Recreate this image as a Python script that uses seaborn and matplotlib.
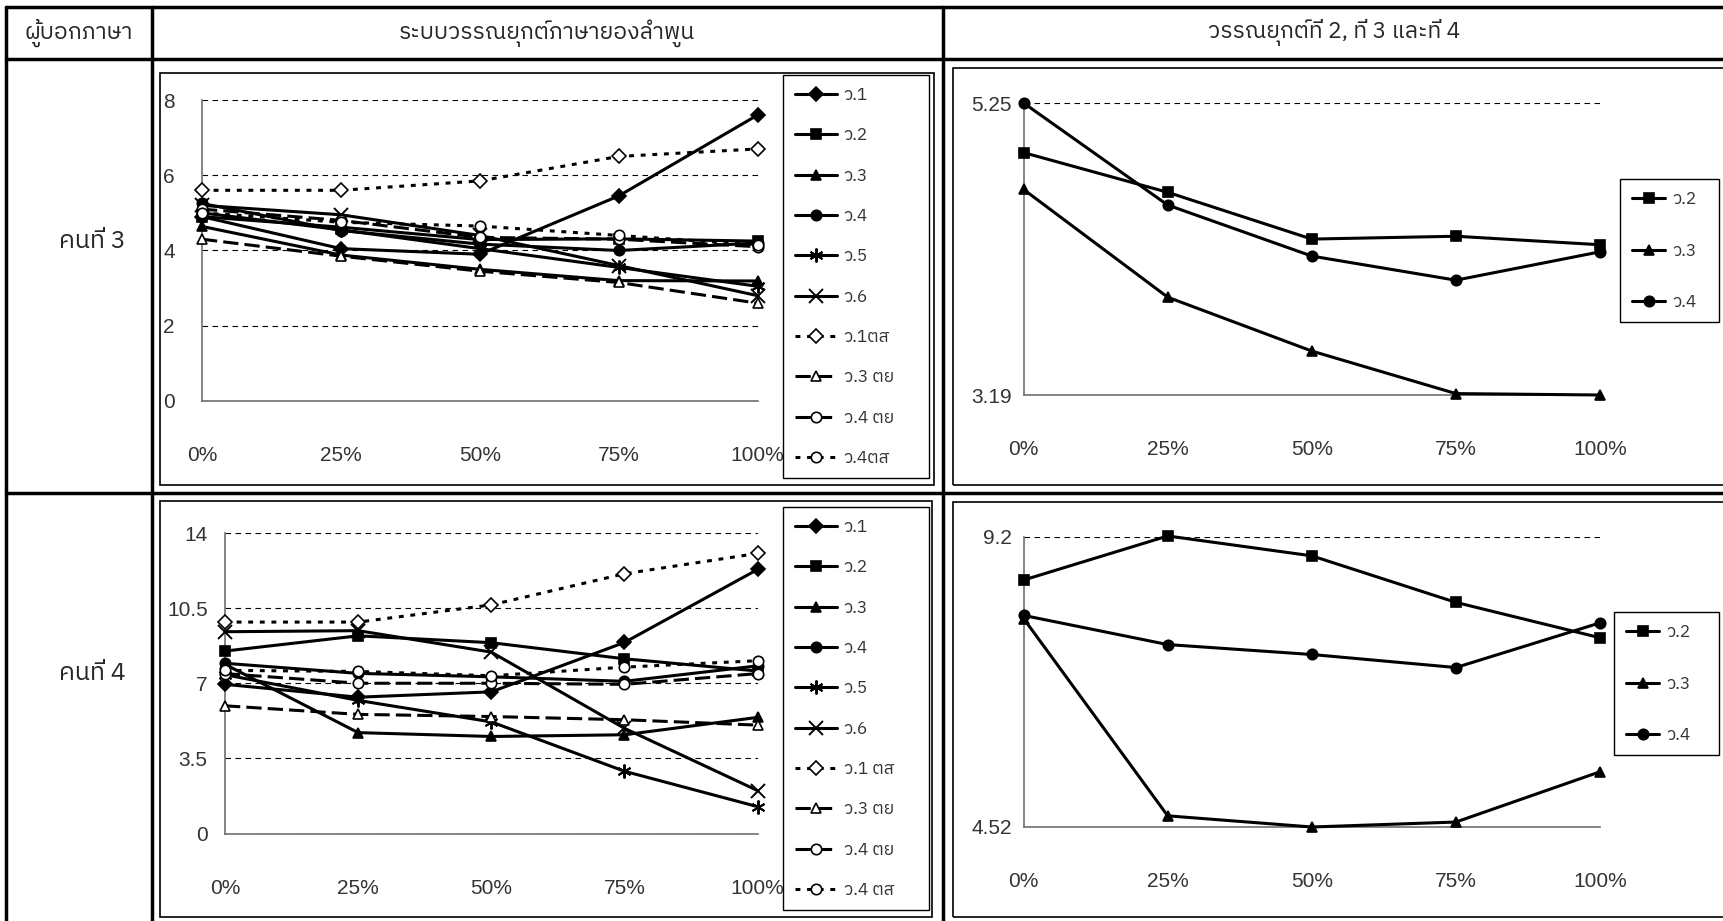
import matplotlib
matplotlib.use("Agg")
import matplotlib.pyplot as plt
from matplotlib import font_manager, ft2font
from matplotlib.patches import Rectangle
from matplotlib.lines import Line2D
import seaborn as sns

# ---- data ----
x_labels = ["0%", "25%", "50%", "75%", "100%"]
x_pos = [0, 1, 2, 3, 4]

# speaker 3, all tones
s3_t1 = [4.9, 4.05, 3.9, 5.45, 7.6]
s3_t2 = [4.9, 4.62, 4.29, 4.31, 4.25]
s3_t3 = [4.64, 3.88, 3.5, 3.2, 3.19]
s3_t4 = [5.25, 4.53, 4.17, 4.0, 4.2]
s3_t5 = [5.0, 4.55, 4.05, 3.55, 3.05]
s3_t6 = [5.2, 4.95, 4.4, 3.6, 2.8]
s3_t1ts = [5.6, 5.6, 5.85, 6.5, 6.7]
s3_t3ty = [4.3, 3.85, 3.45, 3.15, 2.6]
s3_t4ty = [5.1, 4.8, 4.35, 4.3, 4.1]
s3_t4ts = [5.0, 4.75, 4.65, 4.4, 4.15]

# speaker 4, all tones
s4_t1 = [6.95, 6.35, 6.6, 8.9, 12.3]
s4_t2 = [8.5, 9.21, 8.89, 8.14, 7.57]
s4_t3 = [7.88, 4.7, 4.52, 4.6, 5.41]
s4_t4 = [7.93, 7.46, 7.3, 7.09, 7.81]
s4_t5 = [7.4, 6.2, 5.2, 2.9, 1.25]
s4_t6 = [9.4, 9.45, 8.45, 4.9, 2.0]
s4_t1ts = [9.85, 9.85, 10.65, 12.1, 13.05]
s4_t3ty = [5.95, 5.55, 5.45, 5.3, 5.05]
s4_t4ty = [7.45, 7.0, 7.0, 6.95, 7.45]
s4_t4ts = [7.6, 7.55, 7.35, 7.75, 8.05]

labels_s3 = ["ว.1", "ว.2", "ว.3", "ว.4", "ว.5", "ว.6", "ว.1ตส", "ว.3 ตย", "ว.4 ตย", "ว.4ตส"]
labels_s4 = ["ว.1", "ว.2", "ว.3", "ว.4", "ว.5", "ว.6", "ว.1 ตส", "ว.3 ตย", "ว.4 ตย", "ว.4 ตส"]
labels_mid = ["ว.2", "ว.3", "ว.4"]

header = ["ผู้บอกภาษา", "ระบบวรรณยุกต์ภาษายองลำพูน", "วรรณยุกต์ที่ 2, ที่ 3 และที่ 4"]
row_names = ["คนที่ 3", "คนที่ 4"]


def find_thai_font():
    fonts = sorted(font_manager.fontManager.ttflist, key=lambda f: "Thai" not in f.name)
    for f in fonts:
        if f.fname.lower().endswith((".ttc", ".otc")) and "Thai" not in f.name:
            continue
        try:
            if 0x0E01 in ft2font.FT2Font(f.fname).get_charmap():
                return f.name
        except Exception:
            continue
    return "DejaVu Sans"


def pick_num_font():
    names = {f.name for f in font_manager.fontManager.ttflist}
    for n in ["Liberation Sans Narrow", "Liberation Sans"]:
        if n in names:
            return n
    return "DejaVu Sans"


sns.set_style("white")
thai = find_thai_font()
num_font = pick_num_font()
plt.rcParams["font.family"] = [num_font, thai, "DejaVu Sans"]
TXT = [thai, "Liberation Sans", "DejaVu Sans"]

W, H = 1724, 921
fig = plt.figure(figsize=(W / 100, H / 100), dpi=100)
fig.patch.set_facecolor("white")


def fx(x):
    return x / W


def fy(y):
    return 1 - y / H


def add_ax(x0, x1, ytop, ybot):
    ax = fig.add_axes([fx(x0), fy(ybot), (x1 - x0) / W, (ybot - ytop) / H])
    ax.patch.set_alpha(0)
    return ax


# marker, filled?, linestyle
SOLID = "-"
SHORT = (0, (1.6, 2.2))
LONG = (0, (5, 2))
styles = [("D", True, SOLID), ("s", True, SOLID), ("^", True, SOLID), ("o", True, SOLID),
          ((6, 2, 0), True, SOLID), ("x", True, SOLID), ("D", False, SHORT),
          ("^", False, LONG), ("o", False, LONG), ("o", False, SHORT)]
mid_styles = [styles[1], styles[2], styles[3]]


def draw_panel(ax, series, labels, sty, ylim, yticks, ytlabels, ypad):
    for vals, lab, (mk, filled, ls) in zip(series, labels, sty):
        big = mk == "x" or isinstance(mk, tuple)
        sns.lineplot(x=x_pos, y=vals, ax=ax, color="black", linewidth=2.2, linestyle=ls,
                     marker=mk, markersize=10 if big else 7.5,
                     markerfacecolor="black" if filled else "white",
                     markeredgecolor="black", markeredgewidth=1.4 if big else 1.2,
                     label=lab, clip_on=False, zorder=3)
    ax.set_xlim(0, 4)
    ax.set_ylim(*ylim)
    ax.set_yticks(yticks)
    ax.set_yticklabels(ytlabels)
    ax.set_xticks(x_pos)
    ax.set_xticklabels(x_labels)
    ax.set_xlabel("")
    ax.set_ylabel("")
    for s in ["top", "right"]:
        ax.spines[s].set_visible(False)
    for s in ["left", "bottom"]:
        ax.spines[s].set_color("#707070")
        ax.spines[s].set_linewidth(1.2)
    ax.set_axisbelow(True)
    ax.yaxis.grid(True, color="black", linestyle=(0, (5, 4)), linewidth=0.8)
    ax.tick_params(axis="x", direction="inout", length=7, width=1, color="#707070",
                   pad=29, labelsize=15, labelcolor="#333333")
    ax.tick_params(axis="y", direction="inout", length=7, width=1, color="#707070",
                   pad=ypad, labelsize=15, labelcolor="#333333")
    if ax.get_legend() is not None:
        ax.get_legend().remove()


def panel_legend(ax, box, spacing, hlen):
    x0, y0, x1, y1 = box
    leg = ax.legend(loc="upper left", bbox_to_anchor=(fx(x0), fy(y1), (x1 - x0) / W, (y1 - y0) / H),
                    bbox_transform=fig.transFigure, mode="expand", borderaxespad=0,
                    frameon=True, fancybox=False, edgecolor="black", framealpha=1,
                    labelspacing=spacing, handlelength=hlen, handletextpad=0.4,
                    borderpad=0.7, prop={"family": TXT, "size": 12.5})
    leg.get_frame().set_linewidth(1.0)
    for t in leg.get_texts():
        t.set_color("#333333")
    return leg


# ---- table grid ----
def hline(y, x0=0, x1=W, lw=2.5):
    fig.add_artist(Line2D([fx(x0), fx(x1)], [fy(y), fy(y)], color="black", lw=lw))


def vline(x, y0=0, y1=H, lw=2.5):
    fig.add_artist(Line2D([fx(x), fx(x)], [fy(y0), fy(y1)], color="black", lw=lw))


hline(7, 6)
hline(59, 6)
hline(493, 6)
vline(6, 7)
vline(152, 7)
vline(943, 7)

fig.text(fx(79), fy(33), header[0], ha="center", va="center", fontsize=16.5, family=TXT)
fig.text(fx(547), fy(33), header[1], ha="center", va="center", fontsize=16.5, family=TXT)
fig.text(fx(1334), fy(33), header[2], ha="center", va="center", fontsize=16.5, family=TXT)
fig.text(fx(92), fy(241), row_names[0], ha="center", va="center", fontsize=18, family=TXT)
fig.text(fx(92), fy(673), row_names[1], ha="center", va="center", fontsize=18, family=TXT)

# chart frames
for (x0, y0, x1, y1) in [(160, 73, 934, 485), (953, 68, 1740, 485),
                         (160, 501, 932, 917), (953, 502, 1740, 917)]:
    fig.add_artist(Rectangle((fx(x0), fy(y1)), (x1 - x0) / W, (y1 - y0) / H,
                             transform=fig.transFigure, fill=False, edgecolor="black", lw=1.2))

# ---- panels ----
ax1 = add_ax(202, 757.6, 100, 401)
draw_panel(ax1, [s3_t1, s3_t2, s3_t3, s3_t4, s3_t5, s3_t6, s3_t1ts, s3_t3ty, s3_t4ty, s3_t4ts],
           labels_s3, styles, (0, 8), [0, 2, 4, 6, 8], ["0", "2", "4", "6", "8"], 16)
panel_legend(ax1, (783, 75, 929, 478), 1.4, 2.4)

ax2 = add_ax(225, 757.6, 533, 833.5)
draw_panel(ax2, [s4_t1, s4_t2, s4_t3, s4_t4, s4_t5, s4_t6, s4_t1ts, s4_t3ty, s4_t4ty, s4_t4ts],
           labels_s4, styles, (0, 14), [0, 3.5, 7, 10.5, 14], ["0", "3.5", "7", "10.5", "14"], 9)
panel_legend(ax2, (783, 507, 929, 913), 1.4, 2.4)

ax3 = add_ax(1023.6, 1600, 103, 395)
draw_panel(ax3, [s3_t2, s3_t3, s3_t4], labels_mid, mid_styles,
           (3.19, 5.25), [3.19, 5.25], ["3.19", "5.25"], 5)
panel_legend(ax3, (1620, 179, 1719, 325), 2.05, 1.9)

ax4 = add_ax(1023.6, 1600, 536.6, 827)
draw_panel(ax4, [s4_t2, s4_t3, s4_t4], labels_mid, mid_styles,
           (4.52, 9.2), [4.52, 9.2], ["4.52", "9.2"], 5)
panel_legend(ax4, (1614, 612, 1719, 759), 2.05, 1.9)

fig.savefig("out.png", dpi=100, facecolor="white")
